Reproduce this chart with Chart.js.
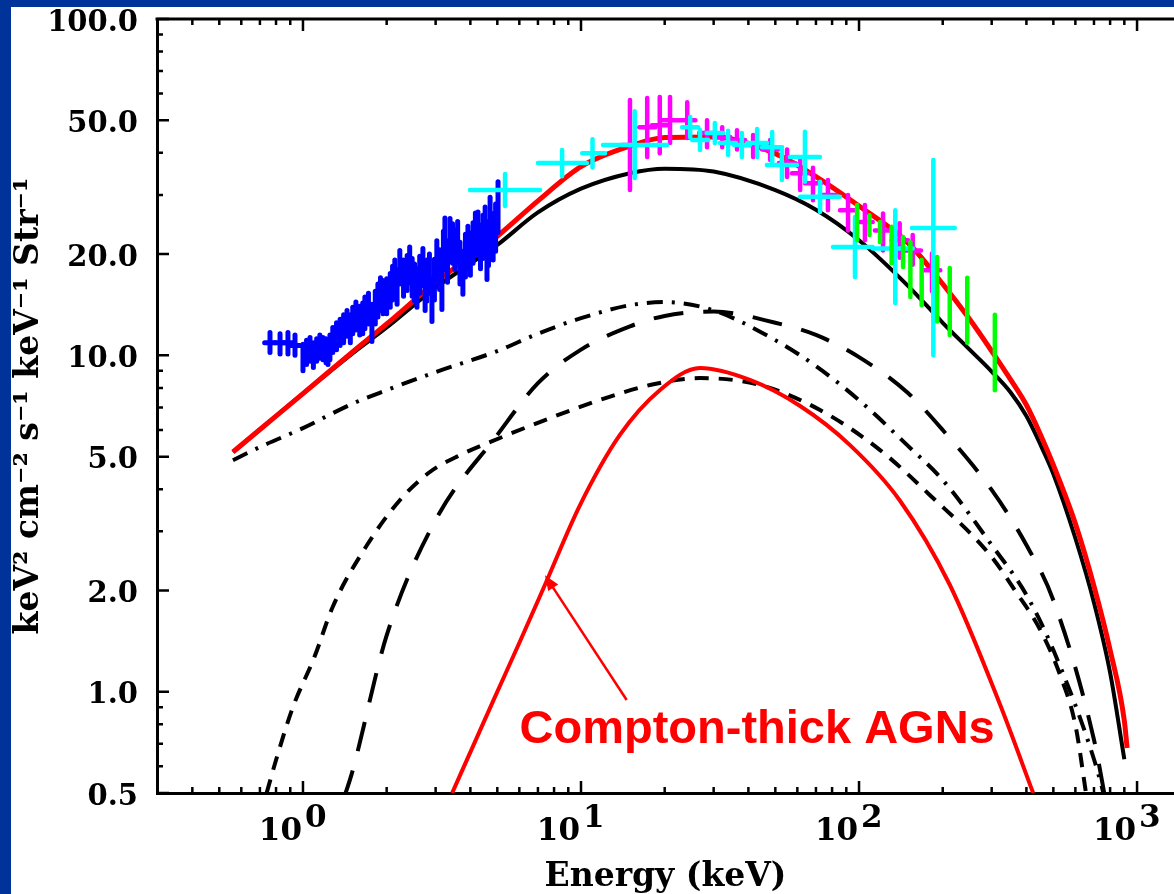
<!DOCTYPE html>
<html lang="en">
<head>
<meta charset="UTF-8">
<title>X-ray Background Spectrum</title>
<script src="https://cdn.jsdelivr.net/npm/chart.js"></script>
<style>
  html, body { margin: 0; padding: 0; background: #003399; overflow: hidden; }
  canvas { display: block; }
</style>
</head>
<body>
<canvas id="cxbChart" width="1174" height="894"></canvas>
<script>
// axis ticks
const X_TICKS = [1, 10, 100, 1000];
const X_TICK_EXP = ['0', '1', '2', '3'];
const X_MINOR = [0.4, 0.5, 0.6, 0.7, 0.8, 0.9, 2, 3, 4, 5, 6, 7, 8, 9, 20, 30, 40, 50, 60, 70, 80, 90,
                 200, 300, 400, 500, 600, 700, 800, 900];
const Y_TICKS = [0.5, 1, 2, 5, 10, 20, 50, 100];
const Y_TICK_LABELS = ['0.5', '1.0', '2.0', '5.0', '10.0', '20.0', '50.0', '100.0'];
const Y_MINOR = [0.6, 0.7, 0.8, 0.9, 3, 4, 6, 7, 8, 9, 30, 40, 60, 70, 80, 90];

// model curves (keV, keV2 cm-2 s-1 keV-1 sr-1)
const MODEL_E = [0.56, 0.7, 1, 1.5, 2, 3, 5, 7, 10, 15, 20, 30, 50, 70, 100, 150, 200, 250, 300, 350, 400, 450, 500, 600, 700, 800, 900];
const TOTAL_BLACK = [5.16, 6.02, 7.70, 10.1, 12.1, 15.9, 21.3, 26.6, 31.3, 34.8, 35.9, 35.2, 31.0, 27.1, 22.0, 16.1, 12.5, 10.4, 8.95, 7.78, 6.60, 5.41, 4.44, 2.86, 1.84, 1.14, 0.63];
const TOTAL_RED_E = [0.56, 0.7, 1, 1.5, 2, 3, 5, 7, 10, 15, 20, 30, 50, 70, 100, 150, 200, 250, 300, 350, 400, 450, 500, 600, 700, 800, 900, 921];
const TOTAL_RED = [5.16, 6.02, 7.70, 10.2, 12.4, 16.5, 22.6, 28.8, 36.4, 41.9, 44.4, 44.6, 39.8, 34.0, 27.8, 21.6, 16.3, 12.8, 10.3, 8.50, 7.12, 5.80, 4.72, 3.16, 2.06, 1.33, 0.82, 0.68];

const DASHDOT_E = [0.56, 0.7, 1, 1.5, 2, 3, 5, 7, 10, 15, 20, 30, 50, 70, 100, 150, 200, 300, 400, 500, 700, 800];
const DASHDOT_F = [4.88, 5.34, 6.08, 7.17, 7.88, 8.92, 10.3, 11.6, 12.9, 14.1, 14.4, 13.6, 11.1, 9.29, 7.36, 5.38, 4.26, 2.73, 1.94, 1.33, 0.63, 0.42];

const LONGDASH_E = [1.4, 1.5, 2, 3, 5, 7, 10, 15, 20, 30, 50, 70, 100, 150, 200, 300, 400, 500, 700, 780];
const LONGDASH_F = [0.48, 0.573, 1.47, 3.24, 5.80, 8.27, 10.4, 12.2, 13.1, 13.5, 12.5, 11.5, 9.88, 7.73, 6.0, 3.98, 2.73, 1.87, 0.72, 0.45];

const SHORTDASH_E = [0.74, 0.806, 0.92, 1.10, 1.28, 1.70, 2.23, 2.86, 3.67, 5.11, 7.74, 11.7, 17.7, 26.8, 44.1, 72.4, 119, 180, 296, 364, 448, 529, 600, 660];
const SHORTDASH_F = [0.5, 0.64, 0.90, 1.27, 1.79, 2.73, 3.71, 4.50, 5.05, 5.68, 6.51, 7.37, 8.16, 8.56, 8.16, 6.88, 5.23, 3.84, 2.55, 2.0, 1.53, 1.12, 0.796, 0.48];

const THICK_E = [3.44, 4.06, 4.90, 6.03, 7.42, 9.92, 13.8, 19.2, 26.8, 40.5, 61.4, 92.8, 140, 212, 322, 423];
const THICK_F = [0.5, 0.68, 0.964, 1.41, 2.08, 3.59, 5.80, 7.88, 9.17, 8.45, 7.07, 5.41, 3.71, 2.08, 0.913, 0.5];

// measured spectra: energy, flux and error bar ends
const BLUE_E = [0.761, 0.827, 0.883, 0.936, 1.00, 1.03, 1.06, 1.09, 1.12, 1.15, 1.18, 1.21, 1.23, 1.25, 1.28, 1.32, 1.36, 1.40, 1.44, 1.48, 1.51, 1.55, 1.60, 1.64, 1.67, 1.72, 1.77, 1.82, 1.86, 1.90, 1.94, 2.00, 2.06, 2.10, 2.14, 2.18, 2.23, 2.30, 2.37, 2.42, 2.47, 2.52, 2.57, 2.63, 2.70, 2.75, 2.79, 2.85, 2.91, 2.97, 3.03, 3.10, 3.16, 3.20, 3.24, 3.31, 3.38, 3.45, 3.52, 3.60, 3.67, 3.76, 3.84, 3.92, 4.00, 4.09, 4.17, 4.26, 4.35, 4.44, 4.52, 4.59, 4.65, 4.71, 4.83, 4.93, 5.03];
const BLUE_F = [10.9, 10.9, 10.9, 10.7, 9.9, 10.2, 10.4, 10.0, 10.4, 10.6, 10.4, 10.3, 10.2, 10.6, 11.1, 11.4, 11.7, 12.0, 12.5, 12.0, 12.7, 13.1, 12.7, 12.9, 13.4, 13.8, 12.5, 13.9, 14.6, 15.2, 14.9, 15.0, 15.6, 16.4, 17.1, 16.0, 18.3, 17.0, 17.6, 18.6, 17.1, 16.5, 15.9, 17.4, 18.3, 15.6, 16.7, 17.5, 14.6, 16.8, 19.2, 18.0, 15.9, 20.5, 22.5, 19.0, 22.5, 21.5, 20.6, 21.8, 18.8, 17.6, 19.8, 21.0, 20.0, 21.6, 22.9, 23.1, 21.0, 22.5, 23.8, 19.5, 21.5, 25.3, 22.5, 24.0, 27.6];
const BLUE_LO = [10.2, 10.1, 10.1, 10.0, 9.0, 9.4, 9.6, 9.2, 9.6, 9.8, 9.7, 9.5, 9.4, 9.7, 10.2, 10.4, 10.7, 10.9, 11.4, 10.9, 11.6, 11.9, 11.5, 11.6, 12.0, 12.4, 11.0, 12.4, 13.0, 13.6, 13.3, 13.3, 13.9, 14.6, 15.2, 14.2, 16.3, 15.0, 15.6, 16.4, 15.0, 14.5, 13.9, 15.3, 16.1, 13.6, 14.5, 15.3, 12.6, 14.6, 16.8, 15.7, 13.7, 17.9, 19.8, 16.5, 19.8, 18.8, 18.0, 19.0, 16.3, 15.2, 17.1, 18.2, 17.3, 18.8, 19.8, 20.0, 18.1, 19.4, 20.5, 16.8, 18.5, 21.7, 19.2, 20.4, 23.2];
const BLUE_HI = [11.7, 11.6, 11.7, 11.5, 10.8, 11.1, 11.3, 10.9, 11.2, 11.5, 11.3, 11.2, 11.0, 11.5, 12.1, 12.5, 12.8, 13.2, 13.6, 13.2, 13.9, 14.4, 14.0, 14.3, 14.9, 15.3, 14.2, 15.5, 16.3, 17.0, 16.7, 16.9, 17.5, 18.4, 19.2, 18.0, 20.5, 19.2, 19.8, 21.0, 19.4, 18.7, 18.1, 19.7, 20.8, 17.8, 19.2, 20.0, 16.9, 19.3, 21.9, 20.6, 18.4, 23.4, 25.6, 21.9, 25.5, 24.6, 23.6, 25.0, 21.7, 20.4, 22.9, 24.2, 23.1, 24.8, 26.5, 26.7, 24.4, 26.1, 27.6, 22.6, 25.0, 29.5, 26.4, 28.2, 32.8];
// horizontal bars are only visible on the first (isolated) points
const BLUE_E_LO = [0.728, 0.791, 0.845, 0.896];
const BLUE_E_HI = [0.795, 0.864, 0.923, 0.978];

const MAG_E = [15.0, 17.3, 19.2, 20.9, 24.1, 28.4, 32.2, 36.4, 41.6, 47.9, 55.1, 61.4, 68.3, 77.3, 91.3, 105, 122, 140, 156, 183];
const MAG_E_LO = [14.0, 16.2, 18.0, 19.6, 22.5, 26.6, 30.1, 34.1, 38.9, 44.8, 51.5, 57.4, 63.9, 72.3, 85.4, 98.2, 114, 131, 146, 171];
const MAG_E_HI = [16.0, 18.5, 20.5, 22.3, 25.8, 30.4, 34.4, 38.9, 44.5, 51.2, 58.9, 65.6, 73.0, 82.6, 97.6, 112, 130, 150, 167, 196];
const MAG_F = [42.2, 47.7, 48.3, 50.0, 50.0, 45.8, 44.6, 43.7, 42.2, 40.9, 37.3, 34.8, 32.5, 30.0, 27.0, 24.9, 23.5, 22.0, 20.5, 17.9];
const MAG_LO = [31.0, 38.9, 39.9, 42.8, 44.3, 41.6, 41.6, 40.9, 38.9, 38.1, 33.9, 31.0, 28.9, 27.0, 23.5, 22.0, 20.5, 19.5, 18.6, 15.5];
const MAG_HI = [57.4, 58.2, 58.6, 58.6, 56.6, 50.0, 47.7, 46.7, 45.2, 43.7, 40.9, 38.1, 36.1, 33.2, 30.0, 28.0, 26.4, 24.7, 22.8, 20.1];

const CYAN_E = [5.33, 8.55, 11.0, 15.6, 24.7, 26.8, 30.3, 33.8, 37.9, 43.0, 48.7, 52.8, 63.9, 72.4, 96.7, 135, 185];
const CYAN_E_LO = [3.99, 7.00, 10.1, 12.0, 23.1, 25.1, 28.3, 31.6, 35.5, 39.6, 44.8, 46.6, 56.4, 61.4, 80.6, 112, 155];
const CYAN_E_HI = [7.12, 10.5, 12.2, 20.4, 26.4, 28.7, 32.4, 36.1, 40.5, 46.7, 52.9, 59.8, 72.3, 85.4, 112, 156, 221];
const CYAN_F = [31.0, 37.3, 39.9, 42.2, 47.7, 43.7, 45.8, 42.8, 42.2, 42.8, 41.6, 36.8, 38.9, 29.6, 21.0, 20.8, 23.9];
const CYAN_LO = [27.8, 34.1, 36.2, 33.7, 44.5, 40.8, 42.8, 39.4, 38.9, 38.9, 37.5, 33.2, 32.8, 26.7, 17.1, 14.3, 10.0];
const CYAN_HI = [34.6, 40.8, 43.9, 53.2, 51.1, 46.8, 49.1, 46.5, 45.8, 47.1, 46.1, 40.8, 46.2, 32.8, 25.8, 27.0, 38.1];

const GREEN_E = [98.4, 109, 119, 131, 144, 153, 168, 191, 212, 245, 308];
const GREEN_F = [24.8, 24.4, 23.2, 21.3, 20.3, 18.0, 16.5, 15.7, 14.5, 13.6, 10.2];
const GREEN_LO = [22.0, 22.8, 21.7, 18.8, 18.3, 14.9, 14.1, 12.6, 11.5, 10.9, 7.88];
const GREEN_HI = [28.0, 26.1, 24.9, 24.1, 22.5, 21.7, 19.2, 19.6, 18.2, 17.0, 13.2];

// annotation: text centre and arrow tail -> tip, in data units
const NOTE_TEXT = 'Compton-thick AGNs';
const NOTE_AT = [43.0, 0.77];
const ARROW_FROM = [14.6, 0.945];
const ARROW_TO = [7.42, 2.22];

const SERIF = 'DejaVu Serif';

function curve(xs, ys) {
    return xs.map((e, i) => ({ x: e, y: ys[i] }));
}
function points(e, elo, ehi, f, lo, hi) {
    return e.map((v, i) => ({
        x: v, y: f[i],
        xMin: (elo && elo[i] !== undefined) ? elo[i] : v,
        xMax: (ehi && ehi[i] !== undefined) ? ehi[i] : v,
        yMin: lo[i], yMax: hi[i]
    }));
}

function lineSet(data, color, width, dash, order) {
    return {
        type: 'line', data, borderColor: color, borderWidth: width, borderDash: dash,
        pointRadius: 0, fill: false, cubicInterpolationMode: 'monotone', order
    };
}
function errSet(data, color, width, order) {
    return { type: 'scatter', data, errorBars: true, barWidth: width, borderColor: color, pointRadius: 0, order };
}

// white panel over the blue frame
const background = {
    id: 'background',
    beforeDraw(chart) {
        const ctx = chart.ctx;
        ctx.save();
        ctx.fillStyle = '#ffffff';
        ctx.fillRect(11, 7, chart.width - 11, chart.height - 7);
        ctx.restore();
    }
};

const errorBars = {
    id: 'errorBars',
    afterDatasetsDraw(chart) {
        const { ctx, chartArea: a, scales: { x, y } } = chart;
        ctx.save();
        ctx.beginPath();
        ctx.rect(a.left, a.top, a.right - a.left, a.bottom - a.top);
        ctx.clip();
        ctx.lineCap = 'round';
        chart.data.datasets.forEach(ds => {
            if (!ds.errorBars) return;
            ctx.strokeStyle = ds.borderColor;
            ctx.lineWidth = ds.barWidth;
            ds.data.forEach(p => {
                const px = x.getPixelForValue(p.x), py = y.getPixelForValue(p.y);
                ctx.beginPath();
                ctx.moveTo(px, y.getPixelForValue(p.yMin));
                ctx.lineTo(px, y.getPixelForValue(p.yMax));
                if (p.xMax > p.xMin) {
                    ctx.moveTo(x.getPixelForValue(p.xMin), py);
                    ctx.lineTo(x.getPixelForValue(p.xMax), py);
                }
                ctx.stroke();
            });
        });
        ctx.restore();
    }
};

// IDL style frame: top axis line, inward tick marks and 10^n labels
const frameTicks = {
    id: 'frameTicks',
    afterDraw(chart) {
        const { ctx, chartArea: a, scales: { x, y } } = chart;
        const seg = (x1, y1, x2, y2) => { ctx.moveTo(x1, y1); ctx.lineTo(x2, y2); };
        ctx.save();
        ctx.strokeStyle = '#000';
        ctx.lineWidth = 3;
        ctx.beginPath();
        seg(a.left - 1.5, a.top, a.right, a.top);
        ctx.stroke();
        ctx.lineWidth = 2.5;
        ctx.beginPath();
        X_TICKS.forEach(v => {
            const px = x.getPixelForValue(v);
            seg(px, a.bottom, px, a.bottom - 12);
            seg(px, a.top, px, a.top + 12);
        });
        X_MINOR.forEach(v => {
            const px = x.getPixelForValue(v);
            seg(px, a.bottom, px, a.bottom - 6);
            seg(px, a.top, px, a.top + 6);
        });
        Y_TICKS.forEach(v => {
            const py = y.getPixelForValue(v);
            seg(a.left, py, a.left + 12, py);
        });
        Y_MINOR.forEach(v => {
            const py = y.getPixelForValue(v);
            seg(a.left, py, a.left + 6, py);
        });
        ctx.stroke();

        ctx.fillStyle = '#000';
        ctx.font = 'bold 31px "DejaVu Serif", serif';
        ctx.textBaseline = 'alphabetic';
        X_TICKS.forEach((v, i) => {
            const px = x.getPixelForValue(v);
            ctx.textAlign = 'right';
            ctx.fillText('10', px - 1, a.bottom + 47);
            ctx.textAlign = 'left';
            ctx.fillText(X_TICK_EXP[i], px + 2, a.bottom + 34);
        });
        ctx.restore();
    }
};

const annotation = {
    id: 'annotation',
    afterDraw(chart) {
        const { ctx, scales: { x, y } } = chart;
        const x0 = x.getPixelForValue(ARROW_FROM[0]), y0 = y.getPixelForValue(ARROW_FROM[1]);
        const x1 = x.getPixelForValue(ARROW_TO[0]), y1 = y.getPixelForValue(ARROW_TO[1]);
        const ang = Math.atan2(y1 - y0, x1 - x0);
        ctx.save();
        ctx.strokeStyle = '#ff0000';
        ctx.fillStyle = '#ff0000';
        ctx.lineWidth = 2.5;
        ctx.beginPath();
        ctx.moveTo(x0, y0);
        ctx.lineTo(x1 - 10 * Math.cos(ang), y1 - 10 * Math.sin(ang));
        ctx.stroke();
        ctx.beginPath();
        ctx.moveTo(x1, y1);
        ctx.lineTo(x1 - 15 * Math.cos(ang) + 6 * Math.sin(ang), y1 - 15 * Math.sin(ang) - 6 * Math.cos(ang));
        ctx.lineTo(x1 - 15 * Math.cos(ang) - 6 * Math.sin(ang), y1 - 15 * Math.sin(ang) + 6 * Math.cos(ang));
        ctx.closePath();
        ctx.fill();
        ctx.font = 'bold 47px "Liberation Sans", Arial, sans-serif';
        ctx.textAlign = 'center';
        ctx.textBaseline = 'middle';
        ctx.fillText(NOTE_TEXT, x.getPixelForValue(NOTE_AT[0]), y.getPixelForValue(NOTE_AT[1]));
        ctx.restore();
    }
};

const ctx = document.getElementById('cxbChart').getContext('2d');

new Chart(ctx, {
    data: {
        datasets: [
            errSet(points(BLUE_E, BLUE_E_LO, BLUE_E_HI, BLUE_F, BLUE_LO, BLUE_HI), '#0000ff', 5, 10),
            errSet(points(MAG_E, MAG_E_LO, MAG_E_HI, MAG_F, MAG_LO, MAG_HI), '#ff00ff', 4.5, 11),
            errSet(points(CYAN_E, CYAN_E_LO, CYAN_E_HI, CYAN_F, CYAN_LO, CYAN_HI), '#00ffff', 4.5, 12),
            errSet(points(GREEN_E, null, null, GREEN_F, GREEN_LO, GREEN_HI), '#00ff00', 4.5, 13),
            lineSet(curve(TOTAL_RED_E, TOTAL_RED), '#ff0000', 5, [], 1),
            lineSet(curve(MODEL_E, TOTAL_BLACK), '#000000', 4, [], 2),
            lineSet(curve(THICK_E, THICK_F), '#ff0000', 4, [], 3),
            lineSet(curve(DASHDOT_E, DASHDOT_F), '#000000', 4, [16, 9, 3, 9], 4),
            lineSet(curve(LONGDASH_E, LONGDASH_F), '#000000', 4, [30, 20], 5),
            lineSet(curve(SHORTDASH_E, SHORTDASH_F), '#000000', 4, [14, 10], 6)
        ]
    },
    options: {
        responsive: false,
        animation: false,
        layout: { padding: { top: 19, left: 0, right: 0, bottom: 0 } },
        plugins: { legend: { display: false }, tooltip: { enabled: false } },
        scales: {
            x: {
                type: 'logarithmic', position: 'bottom', min: 0.2985, max: 1358,
                afterBuildTicks: s => { s.ticks = X_TICKS.map(v => ({ value: v })); },
                afterFit: s => { s.height = 101; s.paddingLeft = 0; s.paddingRight = 0; },
                ticks: { display: false },
                grid: { display: false, drawTicks: false },
                border: { display: true, color: '#000', width: 3 },
                title: {
                    display: true, text: 'Energy (keV)', color: '#000',
                    font: { family: SERIF, weight: 'bold', size: 33 },
                    padding: { top: 0, bottom: -3 }
                }
            },
            y: {
                type: 'logarithmic', position: 'left', min: 0.5, max: 100,
                afterBuildTicks: s => { s.ticks = Y_TICKS.map(v => ({ value: v })); },
                afterFit: s => { s.width = 157; s.paddingTop = 0; s.paddingBottom = 0; },
                ticks: {
                    autoSkip: false, padding: 19, labelOffset: 4, color: '#000',
                    font: { family: SERIF, weight: 'bold', size: 29 },
                    callback: (v, i) => Y_TICK_LABELS[i]
                },
                grid: { display: false, drawTicks: false },
                border: { display: true, color: '#000', width: 3 },
                title: {
                    display: true, text: 'keV² cm⁻² s⁻¹ keV⁻¹ Str⁻¹', color: '#000',
                    font: { family: SERIF, weight: 'bold', size: 33 },
                    padding: { top: 10, bottom: 0 }
                }
            }
        }
    },
    plugins: [background, errorBars, frameTicks, annotation]
});
</script>
</body>
</html>
